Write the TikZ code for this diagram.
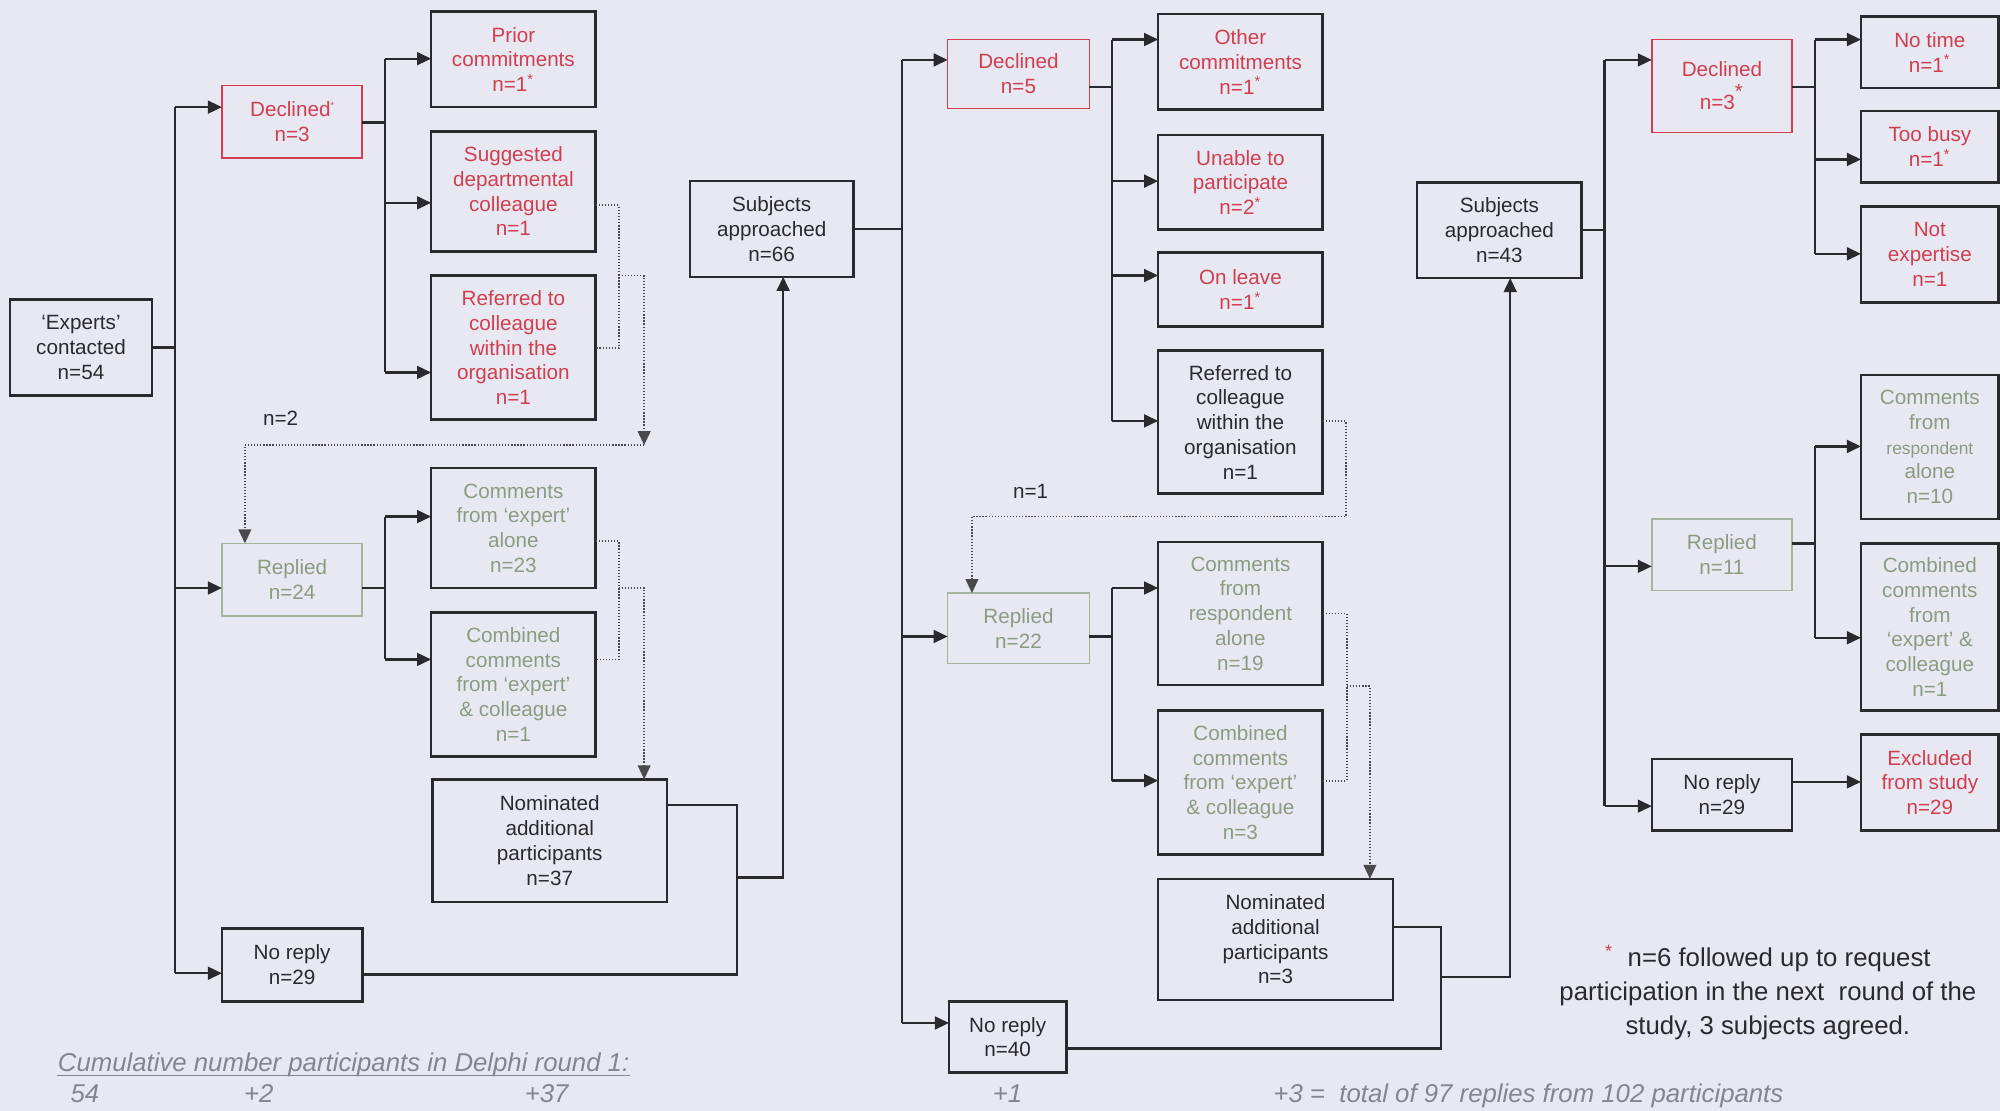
\documentclass[tikz,border=0pt]{standalone}
\usepackage{fontspec}
\setmainfont{Liberation Sans}
\usetikzlibrary{arrows.meta}

\definecolor{bg}{HTML}{E8E8F2}
\definecolor{ink}{HTML}{2A2A2E}
\definecolor{redtx}{HTML}{D03E50}
\definecolor{grntx}{HTML}{8A9C82}
\definecolor{grnln}{HTML}{A6B39F}
\definecolor{graytx}{HTML}{85858E}

\newcommand\boxfont{\fontsize{8.1}{9.7}\selectfont}
% \flowbox{name}{style}{x1}{y1}{x2}{y2}{text}
\newcommand\flowbox[7]{\node[#2, minimum width={(#5-#3)*0.5pt}, minimum height={(#6-#4)*0.5pt}] (#1) at ({(#3+#5)/2},{(#4+#6)/2}) {#7};}
\newcommand\fstar{\textsuperscript{*}}

\begin{document}
\begin{tikzpicture}[x=0.5pt,y=-0.5pt,
  box/.style={draw=ink, line width=1pt, inner sep=0pt, outer sep=0pt, align=center, font=\boxfont, text=ink},
  redbox/.style={box, draw=redtx, line width=0.6pt, text=redtx},
  grnbox/.style={box, draw=grnln, line width=0.6pt, text=grntx},
  rtxt/.style={box, text=redtx},
  gtxt/.style={box, text=grntx},
  ln/.style={draw=ink, line width=0.9pt},
  arr/.style={ln, -{Triangle[length=5.5pt,width=5pt]}},
  dot/.style={draw=ink!85, line width=0.7pt, dash pattern=on 0.5pt off 0.7pt},
  dotarr/.style={dot, -{Triangle[length=5.5pt,width=5pt]}},
  lbl/.style={font=\fontsize{8.1}{9.7}\selectfont, text=ink, inner sep=0pt},
  foot/.style={anchor=base west, inner sep=0pt, font=\fontsize{10.1}{12}\selectfont\itshape, text=graytx}
]
\useasboundingbox (0,0) rectangle (1568,871);
\fill[bg] (0,0) rectangle (1568,871);

% ---------------- round 1 : first contact ----------------
\flowbox{exp}{box}{8}{235}{119}{310}{‘Experts’\\contacted\\n=54}
\flowbox{dec1}{redbox}{174}{67}{284}{124}{Declined\raisebox{0.8ex}{\fontsize{3.5}{3.5}\selectfont*}\\n=3}
\flowbox{prior}{rtxt}{338}{9}{467}{84}{Prior\\commitments\\n=1\fstar}
\flowbox{sug}{rtxt}{338}{103}{467}{197}{Suggested\\departmental\\colleague\\n=1}
\flowbox{ref1}{rtxt}{338}{216}{467}{329}{Referred to\\colleague\\within the\\organisation\\n=1}
\flowbox{rep1}{grnbox}{174}{426}{284}{483}{Replied\\n=24}
\flowbox{com1}{gtxt}{338}{367}{467}{461}{Comments\\from ‘expert’\\alone\\n=23}
\flowbox{comb1}{gtxt}{338}{480}{467}{593}{Combined\\comments\\from ‘expert’\\\& colleague\\n=1}
\flowbox{nom1}{box}{339}{611}{523}{707}{Nominated\\additional\\participants\\n=37}
\flowbox{nr1}{box}{174}{728}{284}{785}{No reply\\n=29}
\flowbox{s66}{box}{541}{142}{669}{217}{Subjects\\approached\\n=66}
\node[lbl] (n2) at (220,328) {n=2};

\coordinate (A1) at (137,84);
\coordinate (A2) at (137,461);
\coordinate (A3) at (137,763);
\draw[ln] (exp.east) -- (exp.east -| A1);
\draw[ln] (A1) -- (A3);
\draw[arr] (A1) -- (dec1.west |- A1);
\draw[arr] (A2) -- (rep1.west |- A2);
\draw[arr] (A3) -- (nr1.west |- A3);

\coordinate (B0) at (302,96);
\coordinate (B1) at (302,46);
\coordinate (B2) at (302,159);
\coordinate (B3) at (302,292);
\draw[ln] (dec1.east |- B0) -- (B0);
\draw[ln] (B1) -- (B3);
\draw[arr] (B1) -- (prior.west |- B1);
\draw[arr] (B2) -- (sug.west |- B2);
\draw[arr] (B3) -- (ref1.west |- B3);

\coordinate (C1) at (302,405);
\coordinate (C2) at (302,517);
\draw[ln] (rep1.east |- A2) -- (C1 |- A2);
\draw[ln] (C1) -- (C2);
\draw[arr] (C1) -- (com1.west |- C1);
\draw[arr] (C2) -- (comb1.west |- C2);

\coordinate (K1) at (485,161);
\coordinate (K2) at (485,273);
\coordinate (K3) at (485,216);
\coordinate (K4) at (505,216);
\coordinate (K5) at (505,349);
\coordinate (K6) at (192,349);
\draw[dot] (sug.east |- K1) -- (K1) -- (K2) -- (ref1.east |- K2);
\draw[dotarr] (K3) -- (K4) -- (K5);
\draw[dotarr] (K5) -- (K6) -- (K6 |- rep1.north);

\coordinate (L1) at (485,424);
\coordinate (L2) at (485,517);
\coordinate (L3) at (485,461);
\coordinate (L4) at (505,461);
\draw[dot] (com1.east |- L1) -- (L1) -- (L2) -- (comb1.east |- L2);
\draw[dotarr] (L3) -- (L4) -- (L4 |- nom1.north);

\coordinate (M1) at (578,631);
\coordinate (M2) at (578,764);
\coordinate (M3) at (578,688);
\coordinate (M4) at (614,688);
\draw[ln] (nom1.east |- M1) -- (M1) -- (M2) -- (nr1.east |- M2);
\draw[arr] (M3) -- (M4) -- (M4 |- s66.south);

% ---------------- second approach ----------------
\flowbox{dec2}{redbox}{743}{31}{854}{85}{Declined\\n=5}
\flowbox{oth}{rtxt}{908}{11}{1037}{86}{Other\\commitments\\n=1\fstar}
\flowbox{una}{rtxt}{908}{106}{1037}{180}{Unable to\\participate\\n=2\fstar}
\flowbox{onl}{rtxt}{908}{198}{1037}{256}{On leave\\n=1\fstar}
\flowbox{ref2}{box}{908}{275}{1037}{387}{Referred to\\colleague\\within the\\organisation\\n=1}
\flowbox{rep2}{grnbox}{743}{465}{854}{520}{Replied\\n=22}
\flowbox{com2}{gtxt}{908}{425}{1037}{537}{Comments\\from\\respondent\\alone\\n=19}
\flowbox{comb2}{gtxt}{908}{557}{1037}{670}{Combined\\comments\\from ‘expert’\\\& colleague\\n=3}
\flowbox{nom2}{box}{908}{689}{1092}{784}{Nominated\\additional\\participants\\n=3}
\flowbox{nr2}{box}{744}{785}{836}{841}{No reply\\n=40}
\flowbox{s43}{box}{1111}{143}{1240}{218}{Subjects\\approached\\n=43}
\node[lbl] (n1) at (808,385) {n=1};

\coordinate (N1) at (707,47);
\coordinate (N2) at (707,499);
\coordinate (N3) at (707,802);
\draw[ln] (s66.east) -- (s66.east -| N1);
\draw[ln] (N1) -- (N3);
\draw[arr] (N1) -- (dec2.west |- N1);
\draw[arr] (N2) -- (rep2.west |- N2);
\draw[arr] (N3) -- (nr2.west |- N3);

\coordinate (P0) at (872,68);
\coordinate (P1) at (872,31);
\coordinate (P2) at (872,142);
\coordinate (P3) at (872,216);
\coordinate (P4) at (872,330);
\draw[ln] (dec2.east |- P0) -- (P0);
\draw[ln] (P1) -- (P4);
\draw[arr] (P1) -- (oth.west |- P1);
\draw[arr] (P2) -- (una.west |- P2);
\draw[arr] (P3) -- (onl.west |- P3);
\draw[arr] (P4) -- (ref2.west |- P4);

\coordinate (Q1) at (1055,330);
\coordinate (Q2) at (1055,405);
\coordinate (Q3) at (762,405);
\draw[dotarr] (ref2.east |- Q1) -- (Q1) -- (Q2) -- (Q3) -- (Q3 |- rep2.north);

\coordinate (R1) at (872,461);
\coordinate (R2) at (872,612);
\draw[ln] (rep2.east |- N2) -- (R1 |- N2);
\draw[ln] (R1) -- (R2);
\draw[arr] (R1) -- (com2.west |- R1);
\draw[arr] (R2) -- (comb2.west |- R2);

\coordinate (S1) at (1056,481);
\coordinate (S2) at (1056,612);
\coordinate (S3) at (1056,538);
\coordinate (S4) at (1074,538);
\draw[dot] (com2.east |- S1) -- (S1) -- (S2) -- (comb2.east |- S2);
\draw[dotarr] (S3) -- (S4) -- (S4 |- nom2.north);

\coordinate (T1) at (1130,727);
\coordinate (T2) at (1130,822);
\coordinate (T3) at (1130,766);
\coordinate (T4) at (1184,766);
\draw[ln] (nom2.east |- T1) -- (T1) -- (T2) -- (nr2.east |- T2);
\draw[arr] (T3) -- (T4) -- (T4 |- s43.south);

% ---------------- third approach ----------------
\flowbox{dec3}{redbox}{1295}{31}{1405}{104}{Declined\\[2pt]n=3{\large\textsuperscript{*}}}
\flowbox{ntime}{rtxt}{1459}{13}{1567}{69}{No time\\n=1\fstar}
\flowbox{busy}{rtxt}{1459}{87}{1567}{143}{Too busy\\n=1\fstar}
\flowbox{nexp}{rtxt}{1459}{162}{1567}{237}{Not\\expertise\\n=1}
\flowbox{rep3}{grnbox}{1295}{407}{1405}{463}{Replied\\n=11}
\flowbox{com3}{gtxt}{1459}{294}{1567}{407}{Comments\\from\\{\fontsize{6.8}{9.7}\selectfont respondent}\\alone\\n=10}
\flowbox{comb3}{gtxt}{1459}{426}{1567}{557}{Combined\\comments\\from\\‘expert’ \&\\colleague\\n=1}
\flowbox{nr3}{box}{1295}{595}{1405}{651}{No reply\\n=29}
\flowbox{excl}{rtxt}{1459}{576}{1567}{651}{Excluded\\from study\\n=29}

\coordinate (U1) at (1258,47);
\coordinate (U2) at (1258,444);
\coordinate (U3) at (1258,632);
\draw[ln] (s43.east) -- (s43.east -| U1);
\draw[ln] (U1) -- (U3);
\draw[arr] (U1) -- (dec3.west |- U1);
\draw[arr] (U2) -- (rep3.west |- U2);
\draw[arr] (U3) -- (nr3.west |- U3);

\coordinate (V0) at (1423,68);
\coordinate (V1) at (1423,31);
\coordinate (V2) at (1423,125);
\coordinate (V3) at (1423,199);
\draw[ln] (dec3.east |- V0) -- (V0);
\draw[ln] (V1) -- (V3);
\draw[arr] (V1) -- (ntime.west |- V1);
\draw[arr] (V2) -- (busy.west |- V2);
\draw[arr] (V3) -- (nexp.west |- V3);

\coordinate (W0) at (1423,426);
\coordinate (W1) at (1423,350);
\coordinate (W2) at (1423,500);
\draw[ln] (rep3.east |- W0) -- (W0);
\draw[ln] (W1) -- (W2);
\draw[arr] (W1) -- (com3.west |- W1);
\draw[arr] (W2) -- (comb3.west |- W2);

\coordinate (X1) at (1405,613);
\draw[arr] (nr3.east |- X1) -- (excl.west |- X1);

% ---------------- notes ----------------
\node[font=\fontsize{10.1}{13.2}\selectfont, text=ink, align=center, inner sep=0pt] (note) at (1386,778)
  {{\color{redtx}\textsuperscript{*}}\ \ n=6 followed up to request\\participation in the next\ \ round of the\\study, 3 subjects agreed.};

\node[foot] (cum) at (45,840) {Cumulative number participants in Delphi round 1:};
\draw[graytx, line width=0.5pt] ([yshift=-1.6pt]cum.base west) -- ([yshift=-1.6pt]cum.base east);
\node[foot] (c54) at (55,864) {54};
\node[foot] (c2) at (191,864) {+2};
\node[foot] (c37) at (411,864) {+37};
\node[foot] (c1) at (778,864) {+1};
\node[foot] (c3) at (998,864) {+3 =\ \ total of 97 replies from 102 participants};
\end{tikzpicture}
\end{document}
